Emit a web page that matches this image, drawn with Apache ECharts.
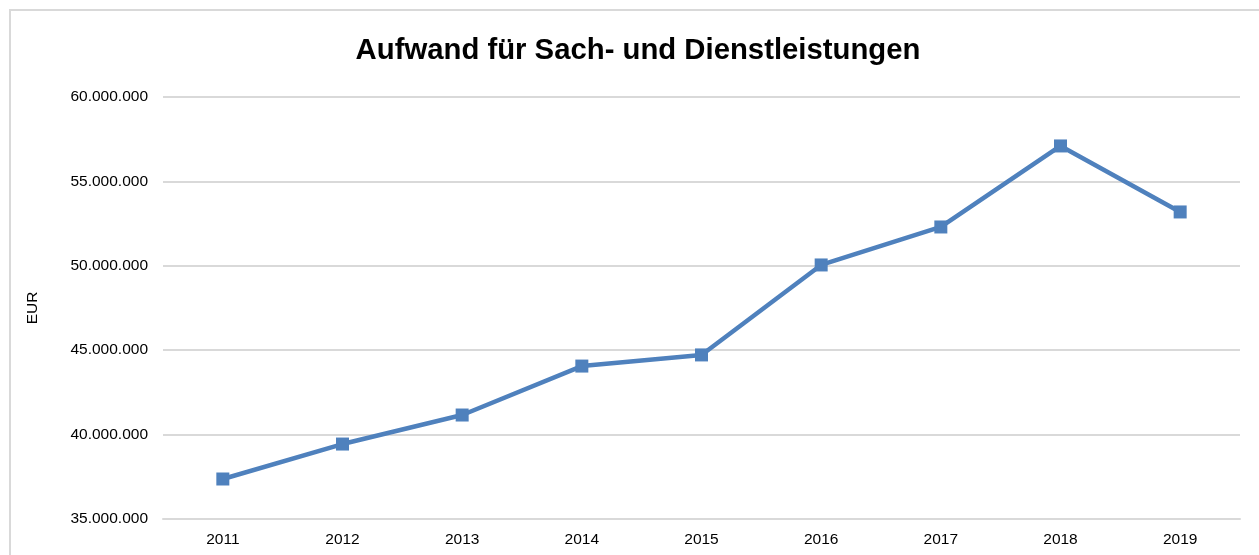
<!DOCTYPE html>
<html>
<head>
<meta charset="utf-8">
<script src="https://cdn.jsdelivr.net/npm/echarts@6/dist/echarts.min.js"></script>
<style>
  html, body { margin: 0; padding: 0; background: #fff; }
  #chart { width: 1259px; height: 555px; }
</style>
</head>
<body>
<div id="chart"></div>
<script>
// Jahre und Aufwand in EUR
const years = ["2011", "2012", "2013", "2014", "2015", "2016", "2017", "2018", "2019"]
const aufwand = [37370000, 39440000, 41160000, 44060000, 44720000, 50050000, 52300000, 57100000, 53190000]
const yTicks = [35000000, 40000000, 45000000, 50000000, 55000000, 60000000]

const fmt = v => String(v).replace(/\B(?=(\d{3})+(?!\d))/g, ".")

const chart = echarts.init(document.getElementById("chart"))
chart.setOption({
    animation: false,
    textStyle: { fontFamily: "Liberation Sans, Arial, sans-serif" },
    graphic: [
        {
            type: "rect",
            shape: { x: 10, y: 10, width: 1300, height: 600 },
            style: { fill: "none", stroke: "#d9d9d9", lineWidth: 2 },
            silent: true
        }
    ],
    title: {
        text: "Aufwand für Sach- und Dienstleistungen",
        left: 633,
        textAlign: "center",
        top: 31,
        textStyle: { fontSize: 29.3, fontWeight: "bold", color: "#000" }
    },
    grid: { left: 163, right: 19, top: 97, bottom: 36 },
    xAxis: {
        type: "category",
        data: years,
        boundaryGap: true,
        axisLine: { show: true, lineStyle: { color: "#d9d9d9", width: 2 } },
        axisTick: { show: false },
        axisLabel: { color: "#000", fontSize: 15.5, margin: 13 }
    },
    yAxis: {
        type: "value",
        min: yTicks[0],
        max: yTicks[yTicks.length - 1],
        interval: 5000000,
        name: "EUR",
        nameLocation: "middle",
        nameRotate: 90,
        nameGap: 122,
        nameTextStyle: { color: "#000", fontSize: 15.5 },
        axisLine: { show: false },
        axisTick: { show: false },
        splitLine: { lineStyle: { color: "#d9d9d9", width: 2 } },
        axisLabel: { color: "#000", fontSize: 15.5, margin: 15, formatter: fmt }
    },
    series: [
        {
            type: "line",
            data: aufwand,
            symbol: "rect",
            symbolSize: 13,
            lineStyle: { color: "#4f81bd", width: 4.5 },
            itemStyle: { color: "#4f81bd" }
        }
    ]
})
</script>
</body>
</html>
